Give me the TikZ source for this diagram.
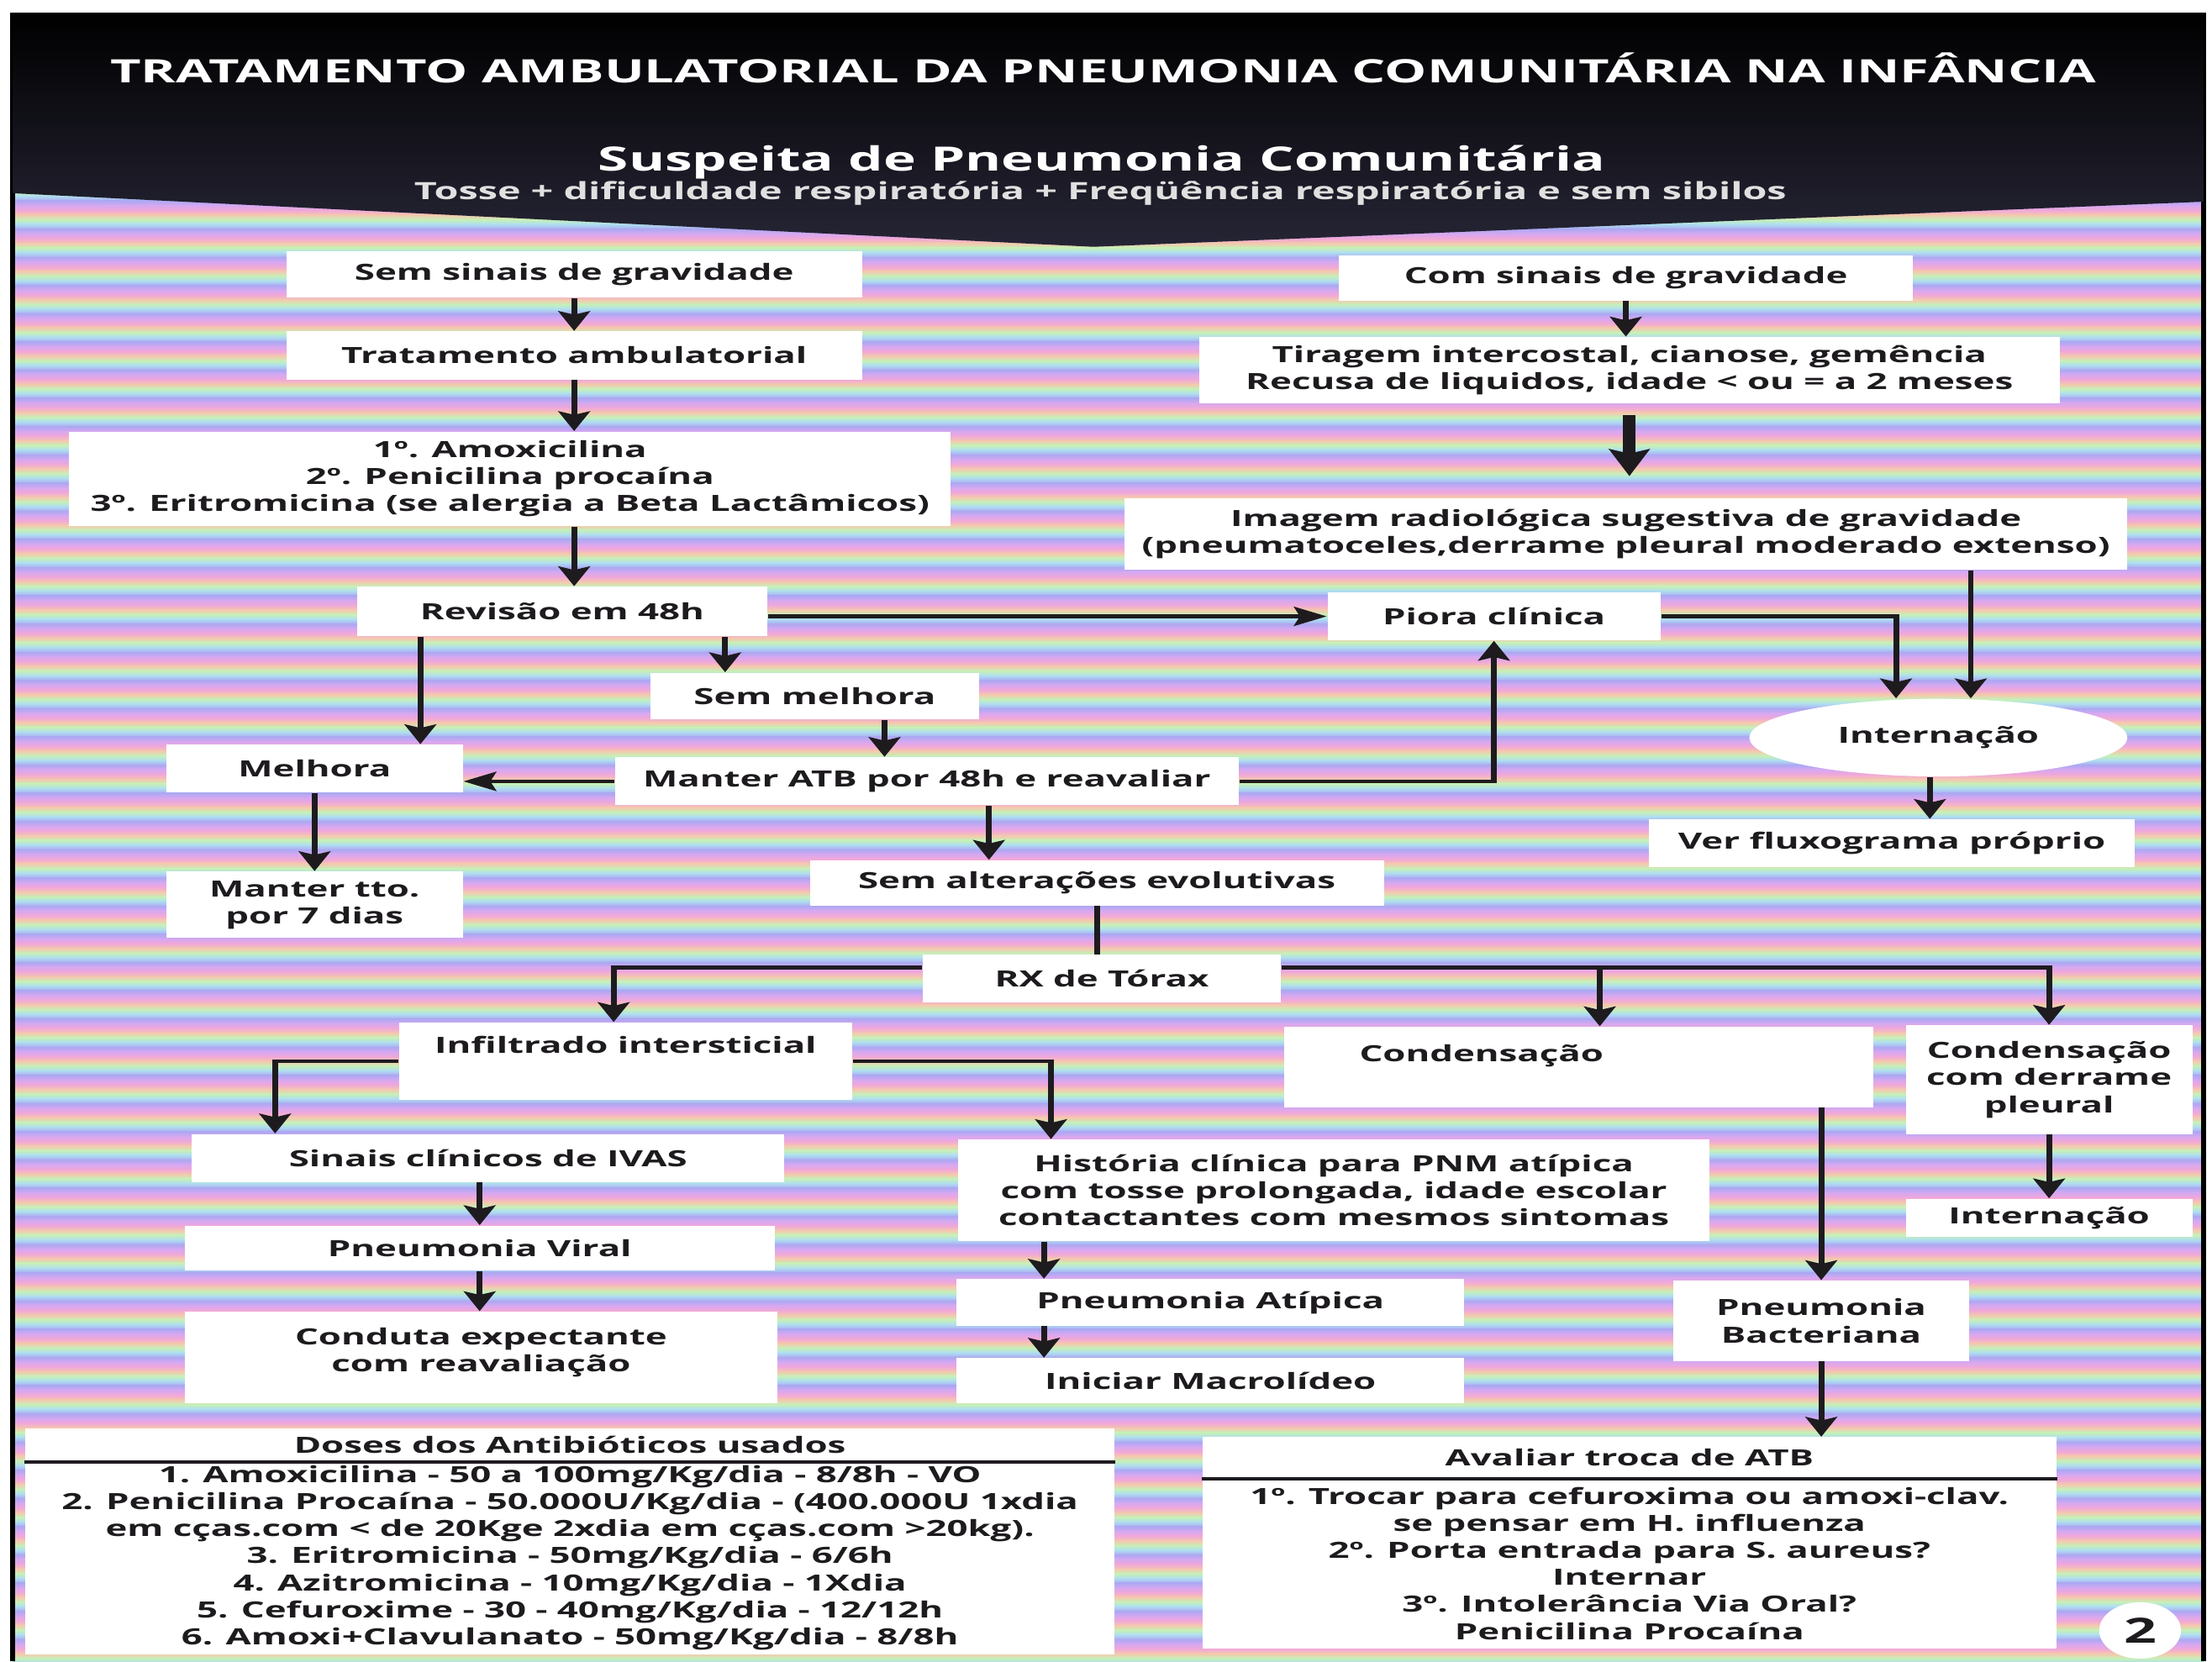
\documentclass[tikz,border=0pt]{standalone}
\usepackage{fontspec}
\setmainfont{Open Sans}
\usetikzlibrary{arrows.meta,shapes.geometric}
\definecolor{testo}{HTML}{1E1B1F}
\definecolor{rosa}{HTML}{F0A8D8}
\definecolor{pesca}{HTML}{F4C8AE}
\definecolor{verde}{HTML}{C6F0B8}
\definecolor{celeste}{HTML}{AEDDF0}
\definecolor{lilla}{HTML}{ADA8F2}
\definecolor{viola}{HTML}{D6A8F0}

\begin{document}
\begin{tikzpicture}[x=0.2mm, y=-0.2mm,
    box/.style={fill=white, inner sep=0pt, align=center, text=testo,
        font=\bfseries\fontsize{9}{10.9}\selectfont},
    sz/.style 2 args={minimum width=#1*0.12121mm, minimum height=#2*0.2mm},
    lin/.style={draw=testo, line width=0.5mm},
    arr/.style={lin, -{Stealth[length=2.8mm, width=2.7mm, inset=0.5mm]}},
    big/.style={draw=testo, line width=1.1mm, shorten <=1.6mm, shorten >=3mm,
        -{Stealth[length=3.8mm, width=3.4mm, inset=0.6mm]}}]
    \fill[white] (0,0) rectangle (1568,1178);
    \useasboundingbox (0,0) rectangle (1568,1178);
    \begin{scope}[transform canvas={xscale=1.65}, x=0.12121mm]
        % Sfondo
        \foreach \k in {0,...,58}{
            \foreach \a/\b [count=\i from 0] in {rosa/pesca,pesca/verde,verde/celeste,celeste/lilla,lilla/viola,viola/rosa}
                \shade[top color=\a, bottom color=\b] (9,{9+20*\k+3.333*\i}) rectangle (1562,{9+20*\k+3.333*(\i+1)+0.3});
        }
        \draw[line width=0.4mm] (9,9) -- (9,1178);
        \draw[line width=0.4mm] (1562,9) -- (1562,1178);
        % Testata
        \shade[top color=black, bottom color=black!78!lilla] (9,9) -- (1562,9) -- (1562,143) -- (775,175) -- (9,137) -- cycle;
        \node[text=white, font=\bfseries\fontsize{13}{15}\selectfont] (titolo) at (782,48) {TRATAMENTO AMBULATORIAL DA PNEUMONIA COMUNITÁRIA NA INFÂNCIA};
        \node[text=white, font=\bfseries\fontsize{13.5}{16}\selectfont] (sospetto) at (781,115) {Suspeita de Pneumonia Comunitária};
        \node[text=white!88!black, font=\bfseries\fontsize{9.6}{11}\selectfont] (criteri) at (780,137) {Tosse + dificuldade respiratória + Freqüência respiratória e sem sibilos};
        % Colonna sinistra
        \node[box, sz={408}{33}] (sem) at (407,194.5) {Sem sinais de gravidade};
        \node[box, sz={408}{34}] (trat) at (407,252) {Tratamento ambulatorial};
        \node[box, sz={625}{67}] (abx) at (361.5,339.5) {1º. Amoxicilina\\2º. Penicilina procaína\\3º. Eritromicina (se alergia a Beta Lactâmicos)};
        \node[box, sz={291}{35}] (rev) at (398.5,433.5) {Revisão em 48h};
        \node[box, sz={233}{33}] (semmel) at (577.5,493.5) {Sem melhora};
        \node[box, sz={210}{34}] (melh) at (223,545) {Melhora};
        \node[box, sz={442}{34}] (manter) at (657,554) {Manter ATB por 48h e reavaliar};
        \node[box, sz={210}{47}] (tto) at (223,641.5) {Manter tto.\\por 7 dias};
        \node[box, sz={407}{32}] (semalt) at (777.5,626) {Sem alterações evolutivas};
        \node[box, sz={254}{34}] (rx) at (781,694) {RX de Tórax};
        % Colonna destra
        \node[box, sz={407}{32}] (com) at (1152.5,197) {Com sinais de gravidade};
        \node[box, sz={610}{47}] (tir) at (1155,262.5) {Tiragem intercostal, cianose, gemência\\Recusa de liquidos, idade < ou = a 2 meses};
        \node[box, sz={711}{51}] (img) at (1152.5,378.5) {Imagem radiológica sugestiva de gravidade\\(pneumatoceles,derrame pleural moderado extenso)};
        \node[box, sz={236}{34}] (piora) at (1059,437) {Piora clínica};
        \node[box, ellipse, sz={268}{55}] (intern) at (1374,523) {Internação};
        \node[box, sz={344}{34}] (verflux) at (1341,598) {Ver fluxograma próprio};
        % RX
        \node[box, sz={321}{55}, text depth=4.6mm] (infil) at (443.5,752.5) {Infiltrado intersticial};
        \node[box, sz={418}{57}, text width=50.67mm, align=left, text depth=3.8mm] (cond) at (1119,756.5) {\hspace*{6.5mm}Condensação};
        \node[box, sz={203}{77}] (condder) at (1452.5,765.5) {Condensação\\com derrame\\pleural};
        \node[box, sz={203}{27}] (intern2) at (1452.5,863.5) {Internação};
        \node[box, sz={420}{34}] (ivas) at (346,821) {Sinais clínicos de IVAS};
        \node[box, sz={418}{32}] (viral) at (340,885) {Pneumonia Viral};
        \node[box, sz={420}{65}, text depth=2.2mm] (conduta) at (341,962.5) {Conduta expectante\\com reavaliação};
        \node[box, sz={533}{72}] (hist) at (945.5,844) {História clínica para PNM atípica\\com tosse prolongada, idade escolar\\contactantes com mesmos sintomas};
        \node[box, sz={360}{33}] (atip) at (858,923.5) {Pneumonia Atípica};
        \node[box, sz={360}{32}] (macro) at (858,979) {Iniciar Macrolídeo};
        \node[box, sz={210}{57}] (bact) at (1291,936.5) {Pneumonia\\Bacteriana};
        % Riquadri in basso
        \node[box, sz={772}{23}] (dosh) at (404,1024.5) {Doses dos Antibióticos usados};
        \node[box, sz={772}{137}] (dos) at (404,1104.5) {1. Amoxicilina - 50 a 100mg/Kg/dia - 8/8h - VO\\2. Penicilina Procaína - 50.000U/Kg/dia - (400.000U 1xdia\\em cças.com < de 20Kge 2xdia em cças.com >20kg).\\3. Eritromicina - 50mg/Kg/dia - 6/6h\\4. Azitromicina - 10mg/Kg/dia - 1Xdia\\5. Cefuroxime - 30 - 40mg/Kg/dia - 12/12h\\6. Amoxi+Clavulanato - 50mg/Kg/dia - 8/8h};
        \node[box, sz={605}{29}] (avah) at (1155,1033.5) {Avaliar troca de ATB};
        \node[box, sz={605}{121}] (ava) at (1155,1108.5) {1º. Trocar para cefuroxima ou amoxi-clav.\\se pensar em H. influenza\\2º. Porta entrada para S. aureus?\\Internar\\3º. Intolerância Via Oral?\\Penicilina Procaína};
        \node[box, ellipse, sz={58}{40}, font=\bfseries\fontsize{14}{14}\selectfont] (pag) at (1517,1156) {2};
        \draw[lin] (dosh.south west) -- (dosh.south east);
        \draw[lin] (avah.south west) -- (avah.south east);
        % Frecce
        \path (298,0) coordinate (xa) (514,0) coordinate (xb) (627,0) coordinate (xc)
            (701,0) coordinate (xe) (435,0) coordinate (xf) (195,0) coordinate (xh)
            (745,0) coordinate (xi) (740,0) coordinate (xj) (1344,0) coordinate (xk)
            (1397,0) coordinate (xl) (1368,0) coordinate (xm) (0,686) coordinate (ya)
            (1134,686) coordinate (jc);
        \draw[arr] (sem) -- (trat);
        \draw[arr] (trat) -- (trat |- abx.north);
        \draw[arr] (trat |- abx.south) -- (trat |- rev.north);
        \draw[arr] (rev.east |- piora.west) -- (piora.west);
        \draw[arr] (rev.south -| xa) -- (melh.north -| xa);
        \draw[arr] (rev.south -| xb) -- (semmel.north -| xb);
        \draw[arr] (semmel.south -| xc) -- (manter.north -| xc);
        \draw[arr] (manter.west) -- (manter.west -| melh.east);
        \draw[arr] (manter.east) -| (piora.south);
        \draw[arr] (manter.south -| xe) -- (semalt.north -| xe);
        \draw[arr] (melh) -- (tto);
        \draw[lin] (semalt) -- (semalt |- rx.north);
        \draw[arr] (rx.west |- ya) -| (infil.north -| xf);
        \draw[arr] (rx.east |- ya) -| (condder.north);
        \draw[arr] (jc) -- (jc |- cond.north);
        \draw[arr] (infil.west) -| (ivas.north -| xh);
        \draw[arr] (infil.east) -| (hist.north -| xi);
        \draw[arr] (viral.north |- ivas.south) -- (viral.north);
        \draw[arr] (viral) -- (viral |- conduta.north);
        \draw[arr] (hist.south -| xj) -- (atip.north -| xj);
        \draw[arr] (atip.south -| xj) -- (macro.north -| xj);
        \draw[arr] (bact.north |- cond.south) -- (bact.north);
        \draw[arr] (bact) -- (bact |- avah.north);
        \draw[arr] (condder) -- (intern2);
        \draw[arr] (com) -- (com |- tir.north);
        \draw[big] (tir) -- (tir |- img.north);
        \draw[arr] (piora.east) -| (intern.north -| xk);
        \draw[arr] (img.south -| xl) -- (intern.north -| xl);
        \draw[arr] (intern.south -| xm) -- (verflux.north -| xm);
    \end{scope}
\end{tikzpicture}
\end{document}
